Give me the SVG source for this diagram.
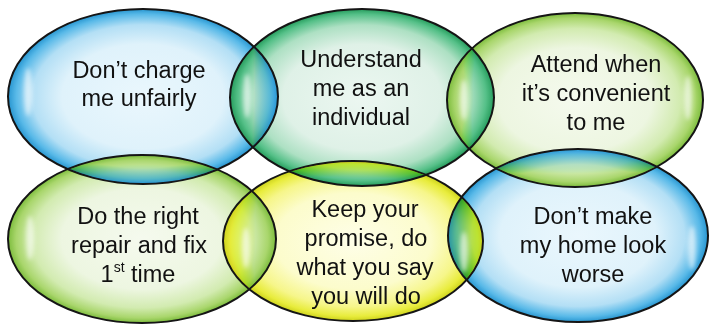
<svg xmlns="http://www.w3.org/2000/svg" width="709" height="324" viewBox="0 0 709 324">
  <defs>
    <radialGradient id="gBlue" cx="50%" cy="50%" r="50%">
      <stop offset="0%" stop-color="#eaf7fd"/>
      <stop offset="60%" stop-color="#dff2fb"/>
      <stop offset="82%" stop-color="#b3dff5"/>
      <stop offset="94%" stop-color="#58b9e8"/>
      <stop offset="100%" stop-color="#2795d0"/>
    </radialGradient>
    <radialGradient id="gGreen" cx="50%" cy="50%" r="50%">
      <stop offset="0%" stop-color="#ecf7f1"/>
      <stop offset="60%" stop-color="#dff1e7"/>
      <stop offset="82%" stop-color="#ade0c3"/>
      <stop offset="94%" stop-color="#55c088"/>
      <stop offset="100%" stop-color="#259c5c"/>
    </radialGradient>
    <radialGradient id="gLime" cx="50%" cy="50%" r="50%">
      <stop offset="0%" stop-color="#f5faee"/>
      <stop offset="60%" stop-color="#edf6e1"/>
      <stop offset="82%" stop-color="#d2ebb0"/>
      <stop offset="94%" stop-color="#a9d66c"/>
      <stop offset="100%" stop-color="#7cbc3c"/>
    </radialGradient>
    <radialGradient id="gYellow" cx="50%" cy="50%" r="50%">
      <stop offset="0%" stop-color="#fefee8"/>
      <stop offset="60%" stop-color="#fcfccc"/>
      <stop offset="82%" stop-color="#f6f68a"/>
      <stop offset="94%" stop-color="#e8ec3c"/>
      <stop offset="100%" stop-color="#cdd21c"/>
    </radialGradient>
    <filter id="blur" x="-50%" y="-50%" width="200%" height="200%">
      <feGaussianBlur stdDeviation="2"/>
    </filter>
  </defs>
  <style>
    .bubble { stroke: #151515; stroke-width: 2; mix-blend-mode: darken; }
    .shine { fill: #ffffff; opacity: 0.6; filter: url(#blur); }
    .label { font-family: "Liberation Sans", Arial, sans-serif; font-size: 23.5px; fill: #111111; text-anchor: middle; }
  </style>

  <g id="node-dont-charge">
    <ellipse class="bubble" cx="143" cy="96.5" rx="135" ry="87.5" fill="url(#gBlue)"/>
    <ellipse class="shine" cx="28" cy="92" rx="4" ry="24"/>
    <text class="label" x="139" y="78">Don’t charge</text>
    <text class="label" x="139" y="106">me unfairly</text>
  </g>

  <g id="node-understand">
    <ellipse class="bubble" cx="362" cy="97.5" rx="132" ry="88.5" fill="url(#gGreen)"/>
    <ellipse class="shine" cx="247" cy="96" rx="4" ry="22"/>
    <text class="label" x="361" y="67">Understand</text>
    <text class="label" x="361" y="96">me as an</text>
    <text class="label" x="361" y="125">individual</text>
  </g>

  <g id="node-attend">
    <ellipse class="bubble" cx="575" cy="100" rx="128" ry="87" fill="url(#gLime)"/>
    <ellipse class="shine" cx="464" cy="100" rx="4" ry="20"/>
    <ellipse class="shine" cx="688" cy="98" rx="4" ry="22"/>
    <text class="label" x="596" y="72">Attend when</text>
    <text class="label" x="596" y="101">it’s convenient</text>
    <text class="label" x="596" y="130">to me</text>
  </g>

  <g id="node-right-repair">
    <ellipse class="bubble" cx="142" cy="239" rx="134" ry="84" fill="url(#gLime)"/>
    <ellipse class="shine" cx="30" cy="238" rx="4" ry="22"/>
    <text class="label" x="138" y="224">Do the right</text>
    <text class="label" x="139" y="253">repair and fix</text>
    <text class="label" x="138" y="282">1<tspan font-size="14" dy="-10">st</tspan><tspan dy="10"> time</tspan></text>
  </g>

  <g id="node-keep-promise">
    <ellipse class="bubble" cx="353" cy="241" rx="130" ry="80" fill="url(#gYellow)"/>
    <ellipse class="shine" cx="246" cy="248" rx="4" ry="20"/>
    <text class="label" x="365" y="217">Keep your</text>
    <text class="label" x="366" y="246">promise, do</text>
    <text class="label" x="365" y="275">what you say</text>
    <text class="label" x="366" y="304">you will do</text>
  </g>

  <g id="node-dont-make-worse">
    <ellipse class="bubble" cx="578" cy="235.5" rx="130" ry="86.5" fill="url(#gBlue)"/>
    <ellipse class="shine" cx="464" cy="252" rx="4" ry="20"/>
    <ellipse class="shine" cx="692" cy="248" rx="4" ry="22"/>
    <text class="label" x="593" y="224">Don’t make</text>
    <text class="label" x="593" y="253">my home look</text>
    <text class="label" x="593" y="282">worse</text>
  </g>

  <g id="connectors"/>
</svg>
